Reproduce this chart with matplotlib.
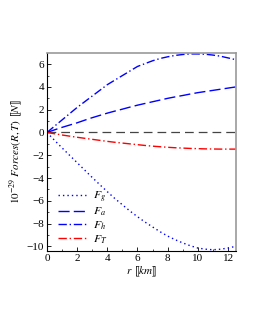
import numpy as np
import matplotlib.pyplot as plt

plt.rcParams['font.family'] = ['Liberation Serif', 'DejaVu Serif']
plt.rcParams['mathtext.fontset'] = 'stix'

# values (r in km, forces in 1e-29 N)
r = [0, 0.5, 1, 1.5, 2, 2.5, 3, 3.5, 4, 4.5, 5, 5.5, 6, 6.5, 7, 7.5, 8, 8.5,
     9, 9.5, 10, 10.5, 11, 11.5, 12, 12.5]
F_g = [0, -0.68, -1.35, -2.0, -2.65, -3.3, -3.95, -4.58, -5.2, -5.8, -6.35, -6.9,
       -7.4, -7.87, -8.3, -8.72, -9.1, -9.42, -9.7, -9.95, -10.15, -10.25, -10.3,
       -10.25, -10.15, -10.0]
F_a = [0, 0.23, 0.45, 0.65, 0.85, 1.08, 1.3, 1.5, 1.7, 1.88, 2.05, 2.23, 2.4,
       2.55, 2.7, 2.85, 3.0, 3.13, 3.25, 3.38, 3.5, 3.6, 3.7, 3.8, 3.9, 4.0]
F_h = [0, 0.55, 1.1, 1.65, 2.2, 2.7, 3.2, 3.7, 4.2, 4.6, 5.0, 5.4, 5.8, 6.05,
       6.3, 6.5, 6.65, 6.77, 6.85, 6.9, 6.9, 6.87, 6.8, 6.7, 6.55, 6.4]
F_T = [0, -0.11, -0.22, -0.32, -0.42, -0.51, -0.6, -0.69, -0.78, -0.86, -0.93,
       -1.0, -1.07, -1.14, -1.2, -1.25, -1.3, -1.34, -1.37, -1.4, -1.42, -1.44,
       -1.45, -1.46, -1.46, -1.46]

fig = plt.figure(figsize=(2.55, 3.3), dpi=100)
ax = fig.add_axes([0.184, 0.238, 0.74, 0.602])

ax.axhline(0, color='#444444', lw=0.9, dashes=(7, 4))
ax.plot(r, F_g, color='blue', lw=1.0, dashes=(1, 2.2), label=r'$F_g$')
ax.plot(r, F_a, color='blue', lw=1.0, dashes=(8, 3), label=r'$F_a$')
ax.plot(r, F_h, color='blue', lw=1.0, dashes=(6, 2, 1, 2), label=r'$F_h$')
ax.plot(r, F_T, color='red', lw=1.0, dashes=(6, 2, 1, 2), label=r'$F_T$')

ax.set_xlim(0, 12.5)
ax.set_ylim(-10.45, 7.0)
ax.set_xticks([0, 2, 4, 6, 8, 10, 12])
ax.set_yticks([-10, -8, -6, -4, -2, 0, 2, 4, 6])
ax.set_xticks(np.arange(0, 12.6, 1), minor=True)
ax.set_yticks(np.arange(-10, 7, 1), minor=True)
ax.tick_params(labelsize=8, direction='in', length=3, width=0.6, pad=2)
ax.tick_params(which='minor', direction='in', length=1.5, width=0.5)
for s in ['top', 'right']:
    ax.spines[s].set_color('#999999')
    ax.spines[s].set_linewidth(1.2)
for s in ['left', 'bottom']:
    ax.spines[s].set_linewidth(0.8)

ax.set_xlabel(r'$r$ $⟦km⟧$', fontsize=8, labelpad=1)
ax.set_ylabel(r'$10^{-29}$ $Forces(R,T)$ $⟦N⟧$', fontsize=8, labelpad=1)

ax.legend(loc='lower left', bbox_to_anchor=(0.0, -0.025), frameon=False,
          fontsize=8.5, handlelength=2.4, labelspacing=0.1, handletextpad=0.6)

fig.savefig('out.png', dpi=100)
